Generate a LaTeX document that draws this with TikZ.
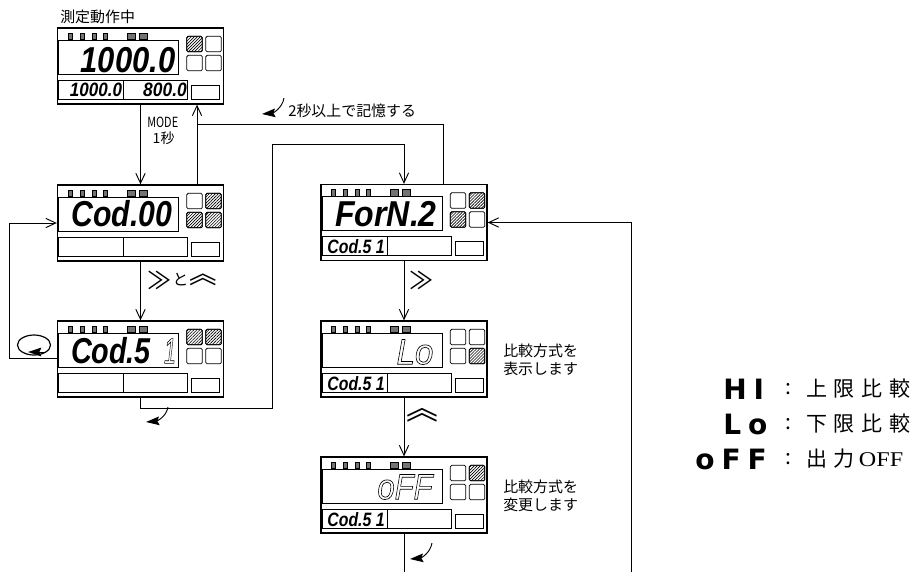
\documentclass[tikz,border=0pt]{standalone}
\usepackage{fontspec}
\usetikzlibrary{arrows.meta,patterns.meta}
\newfontfamily\jpfont{Noto Sans CJK JP}
\newfontfamily\lcdfont{Liberation Sans}
\newfontfamily\offfont{Liberation Serif}
\newfontfamily\legendfont{DejaVu Sans}[LetterSpace=25]
\newcommand{\lcdbig}[2][.86]{\scalebox{#1}[1]{\lcdfont\bfseries\itshape\fontsize{27}{27}\selectfont #2}}
\newcommand{\lcdsmall}[2][.88]{\scalebox{#1}[1]{\lcdfont\bfseries\itshape\fontsize{14.5}{14.5}\selectfont #2}}
\newcommand{\lcdoutline}[2][.9]{\special{pdf:code 1 Tr 0.5 w}\scalebox{#1}[1]{\lcdfont\itshape\fontsize{27}{27}\selectfont #2}\special{pdf:code 0 Tr}}
\newcommand{\lcdpanel}[4]{
  \node[panelbox] (#1) at (#2,#3) {};
  \begin{scope}[shift={(#1.north west)}]
    \foreach \xind in {11,23,35,46,70,82} {
      \path[draw,very thin,fill=black!55] (\xind,5.5) rectangle +(\ifnum\xind>60 8\else 4\fi,6.5);
    }
    \path[draw,lcdline] (2,13) rectangle (122,47);
    \path[draw,lcdline] (2,53) rectangle (131,72) (67,53) -- (67,72);
    \path[draw,lcdline] (135,58) rectangle (163,72);
    \foreach \xbox/\ybox in {130/9,149/9,130/28,149/28} {
      \path[draw,lcdline,rounded corners=1pt] (\xbox,\ybox) rectangle +(15.5,15.5);
    }
    \foreach \xbox/\ybox in {#4} {
      \path[draw,lcdline,rounded corners=1pt,pattern={Lines[angle=45,distance=1.6pt,line width=.45pt]}] (\xbox,\ybox) rectangle +(15.5,15.5);
    }
  \end{scope}
}
\tikzset{
  panelbox/.style={draw,line width=1pt,minimum width=124.5pt,minimum height=57pt,inner sep=0pt},
  lcdline/.style={line width=.55pt},
  flow/.style={line width=.7pt,-{Straight Barb[length=7.5pt,width=7pt]}},
  wire/.style={line width=.7pt},
  press/.style={line width=.7pt,-{Stealth[length=10pt,width=6.5pt,inset=1.5pt]}},
  lbl/.style={inner sep=0pt,font=\jpfont\fontsize{11.2}{13.5}\selectfont},
  sign/.style={inner sep=0pt,font=\jpfont\fontsize{16.5}{16.5}\selectfont},
  lcd/.style={inner sep=0pt},
  legend/.style={inner sep=0pt,anchor=west,font=\legendfont\bfseries\fontsize{21}{21}\selectfont},
  legendtext/.style={inner sep=0pt,anchor=west,font=\jpfont\fontsize{15.75}{15.75}\selectfont}
}
\begin{document}
\begin{tikzpicture}[x=.75pt,y=-.75pt]
  \useasboundingbox (0,0) rectangle (916,572);
  % panels
  \lcdpanel{run}{140.5}{66}{130/9}
  \lcdpanel{code}{140.5}{223}{149/9,130/28,149/28}
  \lcdpanel{sel}{140.5}{359}{130/9,149/9}
  \lcdpanel{form}{404}{222.5}{149/9,130/28}
  \lcdpanel{show}{404}{359}{149/28}
  \lcdpanel{change}{404}{495}{149/9}
  % display texts
  \node[lcd] (runmain) at (128,60) {\lcdbig{1000.0}};
  \node[lcd] (runlow) at (96,90) {\lcdsmall{1000.0}};
  \node[lcd] (runhigh) at (165,90) {\lcdsmall[.9]{800.0}};
  \node[lcd] (codemain) at (122,214) {\lcdbig[.84]{Cod.00}};
  \node[lcd] (selmain) at (111,351) {\lcdbig[.8]{Cod.5}};
  \node[lcd] (selone) at (170,351) {\lcdoutline[.6]{1}};
  \node[lcd] (formmain) at (386,214.5) {\lcdbig[.89]{ForN.2}};
  \node[lcd] (formlow) at (356,247) {\lcdsmall[.82]{Cod.5 1}};
  \node[lcd] (showlow) at (356,383.5) {\lcdsmall[.82]{Cod.5 1}};
  \node[lcd] (changelow) at (356,519.5) {\lcdsmall[.82]{Cod.5 1}};
  \node[lcd] (showmain) at (415,352) {\lcdoutline[.92]{Lo}};
  \node[lcd] (changemain) at (405,487) {\lcdoutline[.86]{oFF}};
  % connectors
  \coordinate (memjoin) at (197,124);
  \coordinate (formjoin) at (443,124);
  \coordinate (loopleft) at (9,358);
  \coordinate (seldown) at (140.5,408);
  \coordinate (upright) at (272,144);
  \coordinate (endleft) at (404,572);
  \coordinate (endright) at (631,572);
  \draw[flow] (run.south) -- (code.north);
  \draw[flow] (code.south) -- (sel.north);
  \draw[flow] (memjoin |- code.north) -- (memjoin |- run.south);
  \draw[wire] (formjoin |- form.north) -- (formjoin) -- (memjoin);
  \draw[flow] (sel.west |- loopleft) -- (loopleft) |- (code.west);
  \draw[flow] (sel.south) -- (seldown) -| (upright) -| (form.north);
  \draw[flow] (form.south) -- (show.north);
  \draw[flow] (show.south) -- (change.north);
  \draw[wire] (change.south) -- (endleft);
  \draw[flow] (endright) |- (form.east);
  % solid arrows
  \coordinate (memfrom) at (284,98);
  \coordinate (memto) at (262,114);
  \coordinate (selfrom) at (168,407);
  \coordinate (selto) at (146,422);
  \coordinate (chgfrom) at (432,543);
  \coordinate (chgto) at (410,559);
  \draw[press] (memfrom) to[out=-100,in=5] (memto);
  \draw[press] (selfrom) to[out=-100,in=5] (selto);
  \draw[press] (chgfrom) to[out=-100,in=5] (chgto);
  \draw[line width=.9pt] (34,345) ellipse (16.5 and 10);
  \coordinate (turnfrom) at (45,352);
  \coordinate (turnto) at (28,352);
  \draw[press] (turnfrom) -- (turnto);
  % labels
  \node[lbl,anchor=west] (runtitle) at (60,17) {測定動作中};
  \node[inner sep=0pt,align=left,anchor=north west,font=\jpfont\fontsize{10.5}{13}\selectfont] (modetext) at (147,117) {\scalebox{.78}[1]{MODE}\\[-1pt]\ \,1秒};
  \node[lbl,anchor=west] (memtext) at (288,110.5) {2秒以上で記憶する};
  \node[sign] (keyright) at (160,280) {\scalebox{1.1}{≫}};
  \node[sign] (keyand) at (180.5,280) {\scalebox{.72}{と}};
  \node[sign] (keyup) at (203,280) {\scalebox{1.25}{︽}};
  \node[sign] (righttext) at (422,280) {\scalebox{1.1}{≫}};
  \node[sign] (uptext) at (422.5,415.5) {\scalebox{1.45}{︽}};
  \node[lbl,align=left,anchor=west] (showtext) at (503,360) {比較方式を\\表示します};
  \node[lbl,align=left,anchor=west] (changetext) at (503,496) {比較方式を\\変更します};
  % legend
  \node[legend] (leghi) at (723,389) {HI};
  \node[legend] (leglo) at (723,424) {Lo};
  \node[legend] (legoff) at (695,459) {oFF};
  \node[legendtext] (colhi) at (785,389) {:};
  \node[legendtext] (collo) at (785,424) {:};
  \node[legendtext] (coloff) at (785,459) {:};
  \node[legendtext] (texthi) at (806,389) {上\hspace{5pt}限\hspace{5pt}比\hspace{5pt}較};
  \node[legendtext] (textlo) at (806,424) {下\hspace{5pt}限\hspace{5pt}比\hspace{5pt}較};
  \node[legendtext] (textoff) at (806,459) {出\hspace{5pt}力\hspace{3pt}{\offfont\scalebox{1.15}[1]{OFF}}};
\end{tikzpicture}
\end{document}
